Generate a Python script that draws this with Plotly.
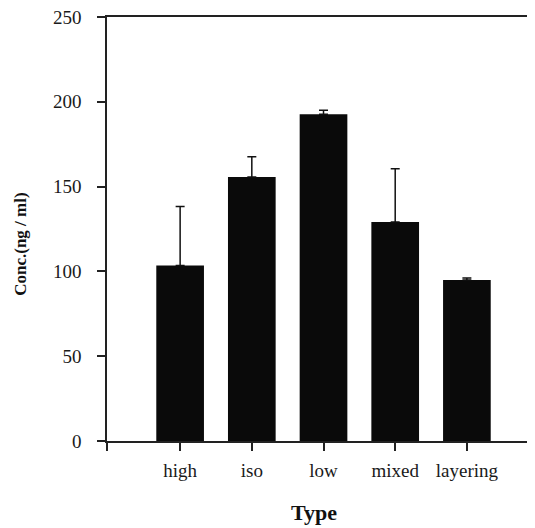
import plotly.graph_objects as go

categories = ["high", "iso", "low", "mixed", "layering"]
conc = [103.5, 155.6, 192.6, 129.2, 94.9]
err_plus = [34.7, 12.0, 2.4, 31.3, 1.2]
y_ticks = [0, 50, 100, 150, 200, 250]

xpos = list(range(len(categories)))

fig = go.Figure()
fig.add_trace(go.Bar(
    x=xpos, y=conc, width=0.665,
    marker=dict(color="#0a0a0a", line=dict(width=0)),
    error_y=dict(type="data", symmetric=False, array=err_plus,
                 arrayminus=[0] * len(err_plus),
                 color="#111111", thickness=1.5, width=4.5),
    showlegend=False,
))

serif = "Liberation Serif, Times New Roman, serif"

# the page body adds an 8px offset; margins compensate for it
fig.update_layout(
    width=535, height=528,
    margin=dict(l=99, r=8, t=9, b=95, autoexpand=False),
    plot_bgcolor="white", paper_bgcolor="white",
    font=dict(family=serif, size=19, color="#1a1a1a"),
    xaxis=dict(
        range=[-1.02, 4.95],
        tickvals=[-1.02] + xpos,
        ticktext=[""] + categories,
        showline=True, linecolor="#222222", linewidth=1.5,
        mirror=True, automargin=False,
        ticks="outside", ticklen=8, tickwidth=1.5, tickcolor="#222222",
        ticklabelstandoff=3,
        showgrid=False, zeroline=False,
    ),
    yaxis=dict(
        range=[0, 250],
        tickvals=y_ticks, automargin=False,
        showline=True, linecolor="#222222", linewidth=1.5,
        ticks="outside", ticklen=8, tickwidth=1.5, tickcolor="#222222",
        ticklabelstandoff=12, ticklabeloverflow="allow",
        showgrid=False, zeroline=False,
    ),
    annotations=[
        dict(text="<b>Type</b>", xref="paper", yref="paper",
             x=0.484, y=-0.168, showarrow=False,
             xanchor="center", yanchor="middle",
             font=dict(family=serif, size=22, color="#111111")),
        dict(text="<b>Conc.(ng / ml)</b>", xref="paper", yref="paper",
             x=-0.201, y=0.465, showarrow=False, textangle=-90,
             xanchor="center", yanchor="middle",
             font=dict(family=serif, size=17, color="#111111")),
    ],
)

fig.write_html("out.html")
